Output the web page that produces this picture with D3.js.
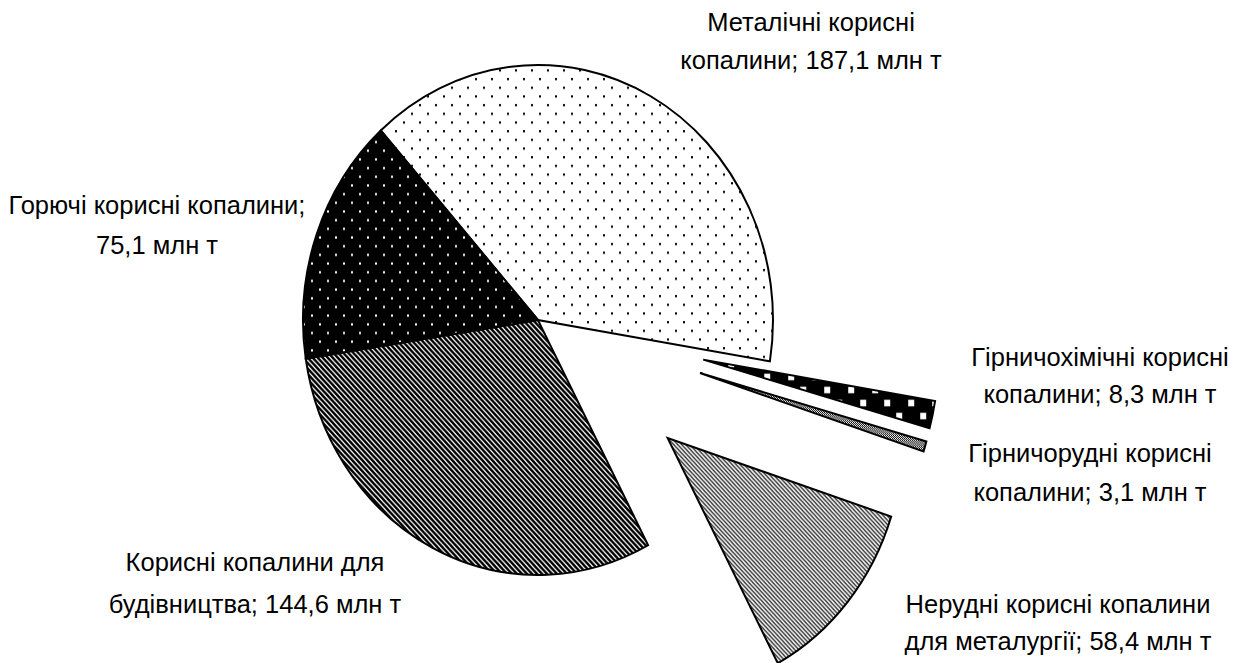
<!DOCTYPE html>
<html>
<head>
	<meta charset="utf-8">
	<script type="text/javascript" src="https://cdn.jsdelivr.net/npm/d3@7/dist/d3.min.js"></script>
	<title>Видобуток корисних копалин</title>
	<style>
		body { margin: 0; background: #fff; }
		text { font-family: "Liberation Sans", Arial, sans-serif; fill: #000; }
	</style>
</head>
<body>
<script type="text/javascript">

	/*------ data ------*/

	var categories = [
		'Металічні корисні копалини',
		'Гірничохімічні корисні копалини',
		'Гірничорудні корисні копалини',
		'Нерудні корисні копалини для металургії',
		'Корисні копалини для будівництва',
		'Горючі корисні копалини'
	];
	var values = [187.1, 8.3, 3.1, 58.4, 144.6, 75.1];

	// label text, split into lines like in the original
	var labelLines = [
		['Металічні корисні', 'копалини; 187,1 млн т'],
		['Гірничохімічні корисні', 'копалини; 8,3 млн т'],
		['Гірничорудні корисні', 'копалини; 3,1 млн т'],
		['Нерудні корисні копалини', 'для металургії; 58,4 млн т'],
		['Корисні копалини для', 'будівництва; 144,6 млн т'],
		['Горючі корисні копалини;', '75,1 млн т']
	];

	/*------ layout ------*/

	var svgWidth = 1239;
	var svgHeight = 663;
	var cx = 538, cy = 320;
	var rx = 235, ry = 255;
	var startDeg = 318;

	var explode = [0, 0.72, 0.72, 0.72, 0, 0];
	var fills = ['url(#pDots)', 'url(#pSquares)', 'url(#pChecker)', 'url(#pLight)', 'url(#pStripes)', 'url(#pDotsInv)'];

	// label anchor (centre x, first baseline, line step)
	var labelPos = [
		[811, 31, 38],
		[1100, 366, 37],
		[1090, 462, 39],
		[1058, 613, 37],
		[255, 571, 42],
		[157, 214, 40]
	];

	var svg = d3.select('body')
		.append('svg')
		.attr('width', svgWidth)
		.attr('height', svgHeight);

	svg.append('rect')
		.attr('width', svgWidth)
		.attr('height', svgHeight)
		.attr('fill', '#fff');

	/*------ hatch patterns ------*/

	var defs = svg.append('defs');

	function pattern(id, w, h, bg) {
		var p = defs.append('pattern')
			.attr('id', id)
			.attr('patternUnits', 'userSpaceOnUse')
			.attr('width', w)
			.attr('height', h);
		p.append('rect').attr('width', w).attr('height', h).attr('fill', bg);
		return p;
	}

	var p1 = pattern('pDots', 16, 16, '#fff');
	p1.append('rect').attr('x', 1).attr('y', 1).attr('width', 2).attr('height', 2).attr('fill', '#000');
	p1.append('rect').attr('x', 9).attr('y', 9).attr('width', 2).attr('height', 2).attr('fill', '#000');

	var p2 = pattern('pDotsInv', 16, 16, '#000');
	p2.append('rect').attr('x', 5).attr('y', 3).attr('width', 2).attr('height', 2).attr('fill', '#fff');
	p2.append('rect').attr('x', 13).attr('y', 11).attr('width', 2).attr('height', 2).attr('fill', '#fff');

	var p3 = pattern('pStripes', 5, 5, '#fff');
	p3.append('path')
		.attr('d', 'M-1,-1 L6,6 M-1,4 L1,6 M4,-1 L6,1')
		.attr('stroke', '#000')
		.attr('stroke-width', 2.3);

	var p4 = pattern('pLight', 4, 4, '#fff');
	p4.append('path')
		.attr('d', 'M-1,-1 L5,5 M-1,3 L1,5 M3,-1 L5,1')
		.attr('stroke', '#000')
		.attr('stroke-width', 1.1);

	var p5 = pattern('pSquares', 24, 24, '#000');
	p5.append('rect').attr('x', 1).attr('y', 1).attr('width', 6).attr('height', 6).attr('fill', '#fff');
	p5.append('rect').attr('x', 13).attr('y', 13).attr('width', 6).attr('height', 6).attr('fill', '#fff');

	var p6 = pattern('pChecker', 2, 2, '#fff');
	p6.append('rect').attr('width', 1).attr('height', 1).attr('fill', '#000');
	p6.append('rect').attr('x', 1).attr('y', 1).attr('width', 1).attr('height', 1).attr('fill', '#000');

	/*------ pie ------*/

	var start = startDeg * Math.PI / 180;

	var pie = d3.pie()
		.sort(null)
		.value(function (d) { return d; })
		.startAngle(start)
		.endAngle(start + 2 * Math.PI);

	var arc = d3.arc()
		.innerRadius(0)
		.outerRadius(rx);

	var arcs = pie(values);

	var g = svg.append('g')
		.attr('transform', 'translate(' + cx + ',' + cy + ') scale(1,' + (ry / rx) + ')');

	g.selectAll('path')
		.data(arcs)
		.enter()
		.append('path')
		.attr('d', arc)
		.attr('transform', function (d, i) {
			var mid = (d.startAngle + d.endAngle) / 2;
			var off = explode[i] * rx;
			return 'translate(' + (Math.sin(mid) * off) + ',' + (-Math.cos(mid) * off) + ')';
		})
		.attr('fill', function (d, i) { return fills[i]; })
		.attr('stroke', '#000')
		.attr('stroke-width', 2)
		.attr('stroke-linejoin', 'miter')
		.attr('vector-effect', 'non-scaling-stroke');

	/*------ labels ------*/

	var labels = svg.selectAll('text.lbl')
		.data(labelLines)
		.enter()
		.append('text')
		.attr('class', 'lbl')
		.attr('text-anchor', 'middle')
		.attr('font-size', 25.5);

	labels.each(function (lines, i) {
		var t = d3.select(this);
		lines.forEach(function (line, k) {
			t.append('tspan')
				.attr('x', labelPos[i][0])
				.attr('y', labelPos[i][1] + k * labelPos[i][2])
				.text(line);
		});
	});

</script>
</body>
</html>
